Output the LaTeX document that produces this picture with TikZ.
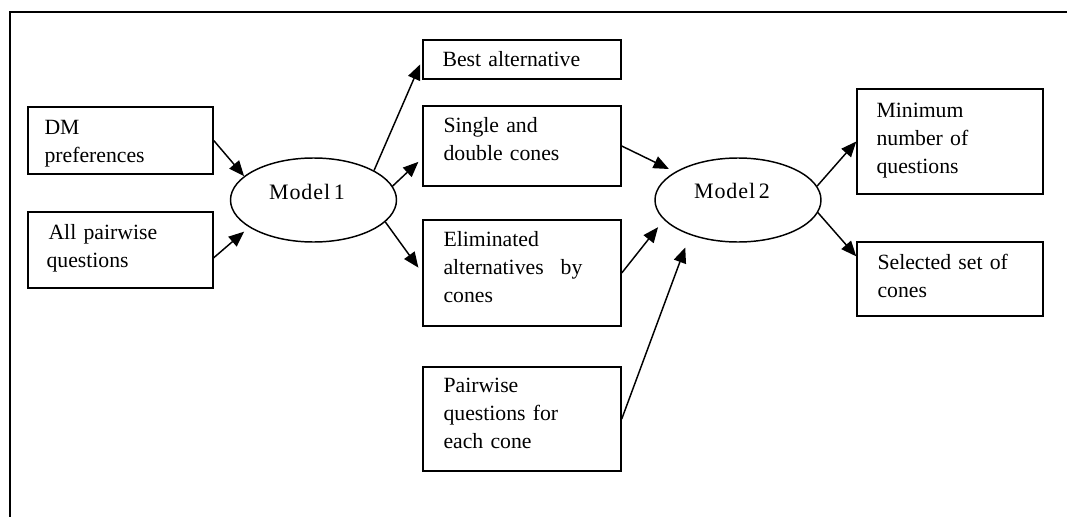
\documentclass[tikz,border=0pt]{standalone}
\usepackage{fontspec}
\setmainfont{Liberation Serif}[WordSpace=0.75]
\usetikzlibrary{shapes.geometric,arrows.meta,calc}

\begin{document}
\begin{tikzpicture}[x=0.75pt,y=-0.75pt,
  box/.style={draw, line width=1.1pt, inner sep=0pt},
  oval/.style={ellipse, draw, line width=1.1pt, inner sep=0pt,
               minimum width=124.5pt, minimum height=63pt},
  txt/.style={anchor=base west, inner sep=0pt, text width=150pt, align=left,
              font=\fontsize{16.3pt}{21pt}\selectfont},
  ovaltxt/.style={anchor=base, inner sep=0pt,
              font=\fontsize{16.5pt}{21pt}\selectfont\addfontfeature{LetterSpace=4}},
  arr/.style={line width=1.1pt, -{Triangle[length=11.5pt,width=9.5pt]}}]

\useasboundingbox (0,0) rectangle (1067,517);

% frame (top and left edges)
\draw[line width=1.1pt] (1067,12) -- (10,12) -- (10,517);

% input boxes
\node[box, minimum width=138.75pt, minimum height=50.25pt] (dm) at (120.5,140.5) {};
\node[box, minimum width=138.75pt, minimum height=57pt]    (ap) at (120.5,250) {};

% Model 1
\node[oval] (m1) at (313.5,200) {};
\node[ovaltxt] (m1t) at (307,199) {Model\,1};

% intermediate boxes
\node[box, minimum width=148.5pt, minimum height=29.25pt] (best)   at (522,59.5) {};
\node[box, minimum width=148.5pt, minimum height=60pt]    (single) at (522,146) {};
\node[box, minimum width=148.5pt, minimum height=79.5pt]  (elim)   at (522,273) {};
\node[box, minimum width=148.5pt, minimum height=78pt]    (pw)     at (522,419) {};

% Model 2
\node[oval] (m2) at (738,200) {};
\node[ovaltxt] (m2t) at (732,198) {Model\,2};

% output boxes
\node[box, minimum width=139.5pt, minimum height=78.75pt] (min) at (950,141.5) {};
\node[box, minimum width=139.5pt, minimum height=55.5pt]  (sel) at (950,279) {};

% box texts
\node[txt] (dmt)     at ($(dm.north west)+(17,28)$)     {DM\\preferences};
\node[txt] (apt)     at ($(ap.north west)+(19,28)$)     {\hspace*{1.5pt}All pairwise\\questions};
\node[txt] (bestt)   at ($(best.north west)+(20,27.5)$) {Best alternative};
\node[txt] (singlet) at ($(single.north west)+(21,27)$) {Single and\\double cones};
\node[txt] (elimt)   at ($(elim.north west)+(21,27)$)   {Eliminated\\alternatives\hspace{0.45em} by\\cones};
\node[txt] (pwt)     at ($(pw.north west)+(21,26)$)     {Pairwise\\questions for\\each cone};
\node[txt] (mint)    at ($(min.north west)+(20,29)$)    {Minimum\\number of\\questions};
\node[txt] (selt)    at ($(sel.north west)+(21,28)$)    {Selected set of\\cones};

% into Model 1
\draw[arr] (dm.east) -- (m1.161);
\draw[arr, shorten >=5pt] ($(ap.north east)!0.6!(ap.south east)$) -- (m1.203);

% out of Model 1
\draw[arr, shorten >=4pt] (m1.26) -- (best.west);
\draw[arr, shorten >=4pt] (m1.10) -- ($(single.north west)!0.65!(single.south west)$);
\draw[arr, shorten >=5pt] (m1.-17) -- (elim.west);

% into Model 2
\draw[arr, shorten >=5pt] (single.east) -- (m2.156);
\draw[arr, shorten >=7pt] (elim.east) -- (m2.195);
\draw[arr, shorten >=10pt] (pw.east) -- (m2.216);

% out of Model 2
\draw[arr] (m2.10) -- (min.west);
\draw[arr] (m2.-9) -- ($(sel.north west)!0.2!(sel.south west)$);

\end{tikzpicture}
\end{document}
